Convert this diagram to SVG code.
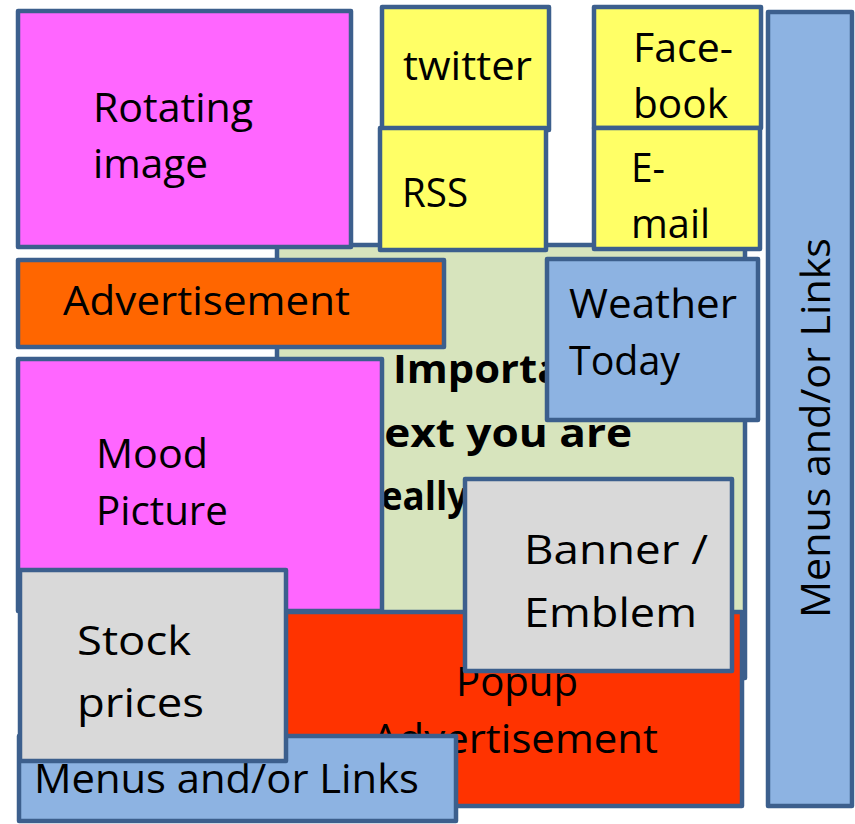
<svg xmlns="http://www.w3.org/2000/svg" width="855" height="824" viewBox="0 0 855 824">
<style>
.b{stroke:#3c5f8d;stroke-width:4.5;stroke-linejoin:round}
.t{font-family:"Open Sans","Liberation Sans",sans-serif;font-size:41px;fill:#000}
.bold{font-weight:700;font-size:40px}
.pink{fill:#ff66ff}.yel{fill:#ffff66}.blue{fill:#8db3e2}.grey{fill:#d9d9d9}
</style>
<rect width="855" height="824" fill="#fff"/>
<g id="main-text">
<rect class="b" x="277" y="245" width="468" height="433" fill="#d7e4bd"/>
<text class="t bold" x="393" y="383" textLength="215" lengthAdjust="spacingAndGlyphs">Important</text>
<text class="t bold" x="365" y="447" textLength="267" lengthAdjust="spacingAndGlyphs">text you are</text>
<text class="t bold" x="364" y="510" textLength="250" lengthAdjust="spacingAndGlyphs">really looking</text>
</g>
<g id="rotating-image">
<rect class="b pink" x="18" y="11" width="333" height="236"/>
<text class="t" x="93" y="122" textLength="160" lengthAdjust="spacingAndGlyphs">Rotating</text>
<text class="t" x="93" y="178" textLength="115" lengthAdjust="spacingAndGlyphs">image</text>
</g>
<g id="twitter">
<rect class="b yel" x="382" y="7" width="167" height="123"/>
<text class="t" x="403" y="80" textLength="129" lengthAdjust="spacingAndGlyphs">twitter</text>
</g>
<g id="rss">
<rect class="b yel" x="380" y="128" width="166" height="122"/>
<text class="t" font-size="39" x="402" y="207" textLength="66" lengthAdjust="spacingAndGlyphs">RSS</text>
</g>
<g id="facebook">
<rect class="b yel" x="594" y="7" width="167" height="121"/>
<text class="t" x="633" y="62" textLength="100" lengthAdjust="spacingAndGlyphs">Face-</text>
<text class="t" x="633" y="118" textLength="95" lengthAdjust="spacingAndGlyphs">book</text>
</g>
<g id="email">
<rect class="b yel" x="594" y="128" width="166" height="121"/>
<text class="t" font-size="39" x="631" y="182" textLength="34" lengthAdjust="spacingAndGlyphs">E-</text>
<text class="t" font-size="39" x="631" y="238" textLength="79" lengthAdjust="spacingAndGlyphs">mail</text>
</g>
<g id="menus-right">
<rect class="b blue" x="768" y="12" width="84" height="794"/>
<text class="t" font-size="35.5" transform="translate(830 618) rotate(-90)" x="0" y="0" textLength="380" lengthAdjust="spacingAndGlyphs">Menus and/or Links</text>
</g>
<g id="advertisement">
<rect class="b" x="18" y="260" width="426" height="87" fill="#ff6600"/>
<text class="t" font-size="40" x="63" y="315" textLength="287" lengthAdjust="spacingAndGlyphs">Advertisement</text>
</g>
<g id="weather">
<rect class="b blue" x="547" y="259" width="211" height="161"/>
<text class="t" font-size="42" x="569" y="318" textLength="168" lengthAdjust="spacingAndGlyphs">Weather</text>
<text class="t" font-size="42" x="569" y="375" textLength="111" lengthAdjust="spacingAndGlyphs">Today</text>
</g>
<g id="mood-picture">
<rect class="b pink" x="18" y="359" width="364" height="252"/>
<text class="t" font-size="42" x="96" y="468" textLength="112" lengthAdjust="spacingAndGlyphs">Mood</text>
<text class="t" font-size="42" x="96" y="525" textLength="132" lengthAdjust="spacingAndGlyphs">Picture</text>
</g>
<g id="popup-advertisement">
<rect class="b" x="285" y="612" width="457" height="194" fill="#ff3300"/>
<text class="t" font-size="40" x="456" y="696" textLength="122" lengthAdjust="spacingAndGlyphs">Popup</text>
<text class="t" font-size="40" x="372" y="753" textLength="286" lengthAdjust="spacingAndGlyphs">Advertisement</text>
</g>
<g id="banner">
<rect class="b grey" x="465" y="479" width="267" height="192"/>
<text class="t" font-size="45" x="524" y="564" textLength="184" lengthAdjust="spacingAndGlyphs">Banner /</text>
<text class="t" font-size="45" x="524" y="627" textLength="173" lengthAdjust="spacingAndGlyphs">Emblem</text>
</g>
<g id="menus-bottom">
<rect class="b blue" x="19" y="736" width="437" height="85"/>
<text class="t" font-size="35.5" x="34" y="793" textLength="385" lengthAdjust="spacingAndGlyphs">Menus and/or Links</text>
</g>
<g id="stock-prices">
<rect class="b grey" x="20" y="570" width="266" height="191"/>
<text class="t" font-size="45" x="77" y="655" textLength="114" lengthAdjust="spacingAndGlyphs">Stock</text>
<text class="t" font-size="45" x="77" y="717" textLength="127" lengthAdjust="spacingAndGlyphs">prices</text>
</g>
<g id="connectors"></g>
</svg>
